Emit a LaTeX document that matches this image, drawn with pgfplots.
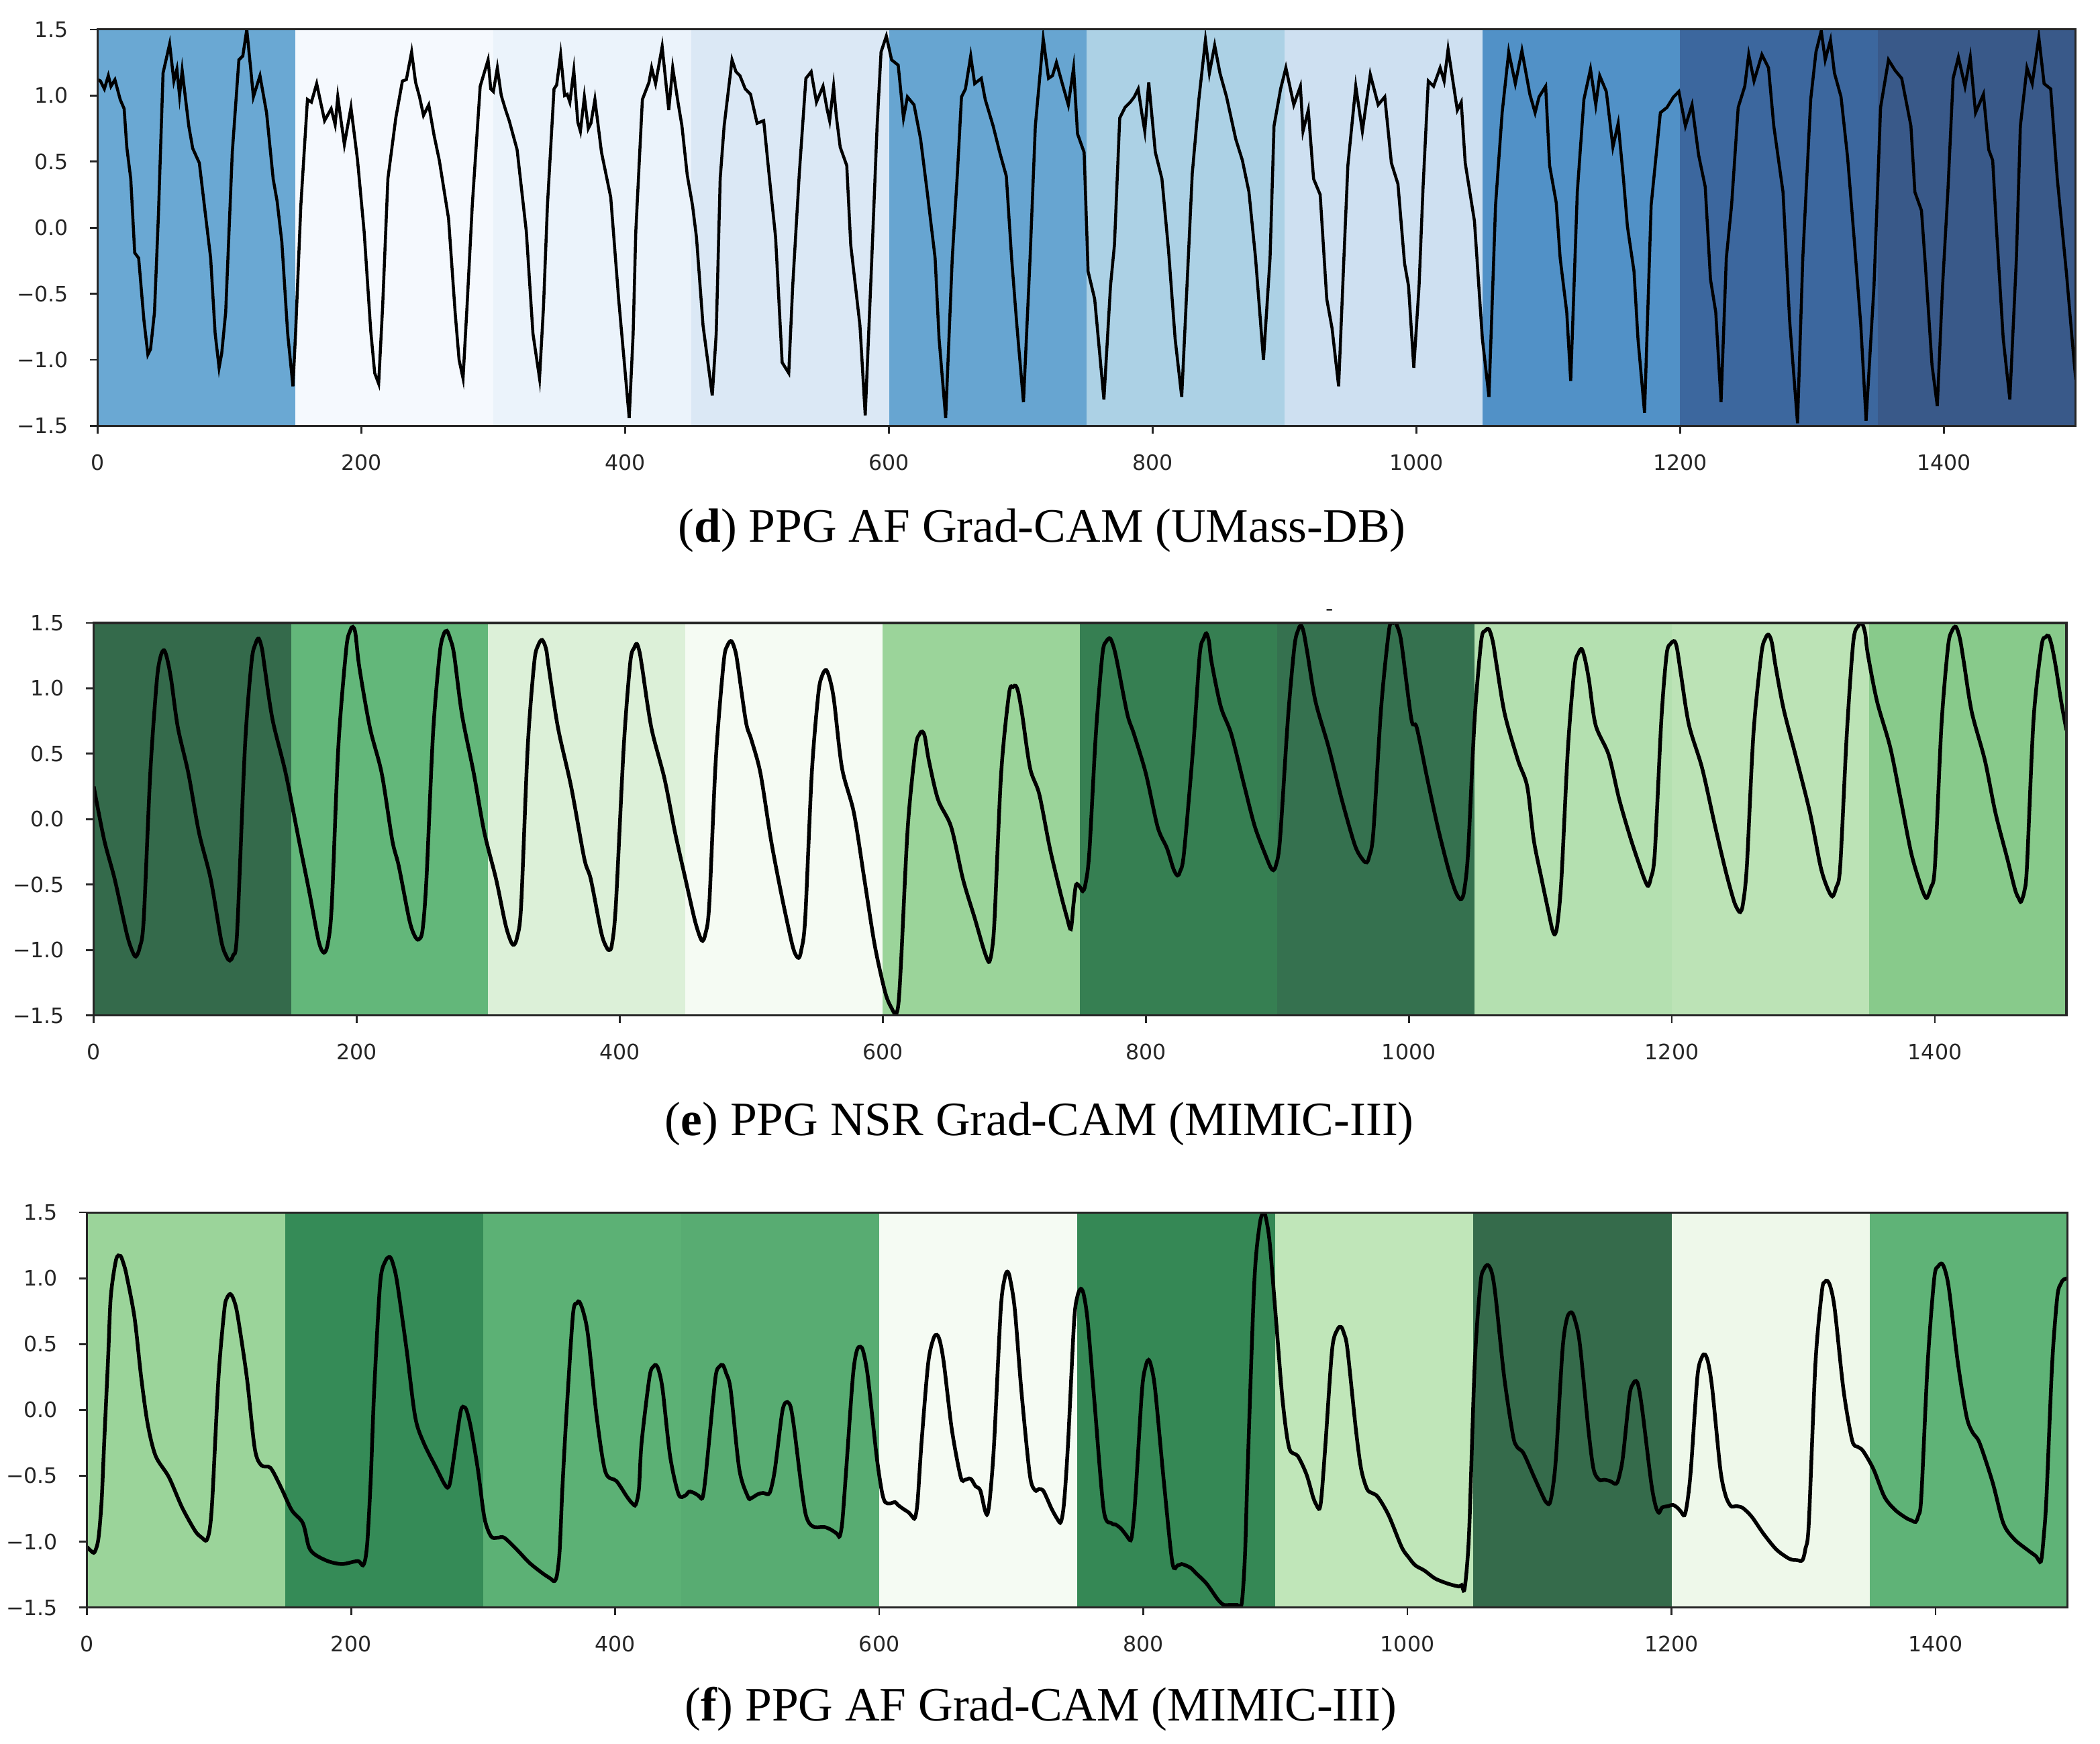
\documentclass[border=0pt]{standalone}
\usepackage{pgfplots}
\pgfplotsset{compat=1.18}
\usepackage{fontspec}
\setmainfont{Liberation Serif}
\newfontfamily\tickfont{DejaVu Sans}

% background bands of the Grad-CAM maps
\definecolor{d1}{RGB}{106,168,211}\definecolor{d2}{RGB}{245,249,254}
\definecolor{d3}{RGB}{235,243,251}\definecolor{d4}{RGB}{219,232,245}
\definecolor{d5}{RGB}{103,165,209}\definecolor{d6}{RGB}{172,209,229}
\definecolor{d7}{RGB}{206,224,241}\definecolor{d8}{RGB}{81,145,199}
\definecolor{d9}{RGB}{60,103,158}\definecolor{d10}{RGB}{57,89,137}
\definecolor{e1}{RGB}{52,106,75}\definecolor{e2}{RGB}{99,183,122}
\definecolor{e3}{RGB}{220,240,216}\definecolor{e4}{RGB}{245,251,243}
\definecolor{e5}{RGB}{155,212,154}\definecolor{e6}{RGB}{54,127,82}
\definecolor{e7}{RGB}{53,113,79}\definecolor{e8}{RGB}{180,224,176}
\definecolor{e9}{RGB}{188,227,182}\definecolor{e10}{RGB}{136,202,139}
\definecolor{f1}{RGB}{155,212,154}\definecolor{f2}{RGB}{53,139,87}
\definecolor{f3}{RGB}{92,177,117}\definecolor{f4}{RGB}{88,172,114}
\definecolor{f5}{RGB}{245,251,243}\definecolor{f6}{RGB}{53,136,85}
\definecolor{f7}{RGB}{192,230,185}\definecolor{f8}{RGB}{53,107,75}
\definecolor{f9}{RGB}{238,248,234}\definecolor{f10}{RGB}{95,179,119}

\newcommand{\band}[3]{\addplot[draw=none, fill=#3, forget plot] coordinates {(#1,-1.5) (#1,1.5) (#2,1.5) (#2,-1.5)};}
\newcommand{\bands}[1]{%
  \band{0}{150.6}{#11}\band{150}{300.6}{#12}\band{300}{450.6}{#13}%
  \band{450}{600.6}{#14}\band{600}{750.6}{#15}\band{750}{900.6}{#16}%
  \band{900}{1050.6}{#17}\band{1050}{1200.6}{#18}\band{1200}{1350.6}{#19}%
  \band{1350}{1500}{#110}}

\pgfplotsset{
  ppg/.style={
    scale only axis, anchor=north west,
    xmin=0, xmax=1500, ymin=-1.5, ymax=1.5,
    xtick={0,200,...,1400},
    xticklabels={0,200,400,600,800,1000,1200,1400},
    ytick={-1.5,-1,-0.5,0,0.5,1,1.5},
    yticklabels={−1.5,−1.0,−0.5,0.0,0.5,1.0,1.5},
    tick pos=left, tick align=outside,
    major tick length=0.06cm,
    tick style={black!85, line width=0.4pt},
    axis line style={black!85, line width=0.45pt},
    tick label style={font=\tickfont\fontsize{4.6}{5.5}\selectfont, text=black!85, inner sep=0pt},
    xticklabel shift=0.15cm, yticklabel shift=0.157cm,
    axis on top,
  }
}
\newcommand{\capfont}{\fontsize{10.4}{12}\selectfont}

\begin{document}
\begin{tikzpicture}
\useasboundingbox (0,0) rectangle (16cm,-13.28cm);

% (d) UMass-DB
\begin{axis}[ppg, at={(0.745cm,-0.2245cm)}, width=15.07cm, height=3.02cm]
\bands{d}
\addplot[black, line width=0.65pt] coordinates {
(0,1.12)(2,1.11)(5,1.05)(8,1.15)(10,1.07)(13,1.12)(17,0.97)(20,0.9)(22,0.61)(25,0.37)(28,-0.19)(31,-0.23)(35,-0.7)(38,-0.96)(40,-0.92)(43,-0.64)(46,0.1)(49.5,1.17)(54.5,1.39)(57.7,1.11)(60,1.2)(62,1.0)(64,1.19)(69,0.77)(72,0.6)(77,0.49)(82,0.07)(85.6,-0.23)(89,-0.8)(92,-1.06)(94,-0.95)(97,-0.64)(102,0.57)(107,1.27)(110,1.3)(113,1.5)(116,1.2)(118,0.99)(123,1.15)(128,0.87)(133,0.37)(136,0.2)(139.6,-0.11)(144,-0.8)(148,-1.2)(150,-0.8)(154,0.17)(159,0.97)(162,0.95)(166,1.09)(169,0.95)(172,0.81)(177,0.9)(180,0.78)(182,0.99)(187,0.63)(192,0.91)(197,0.51)(202,-0.03)(207,-0.78)(210,-1.1)(213,-1.18)(216,-0.6)(220,0.37)(226,0.83)(231,1.11)(234,1.12)(238,1.33)(241,1.1)(244,0.99)(247,0.85)(251,0.93)(255,0.7)(259,0.51)(266,0.07)(271,-0.64)(274,-1.0)(277,-1.14)(280,-0.6)(284,0.17)(290,1.07)(296,1.27)(298,1.05)(300,1.03)(303,1.21)(306,1.0)(309,0.9)(312,0.81)(318,0.59)(325,-0.03)(330,-0.8)(335,-1.14)(338,-0.6)(341,0.17)(346,1.05)(348,1.08)(351,1.31)(354,1.0)(356,1.01)(358,0.95)(361,1.19)(364,0.8)(366,0.73)(369,0.99)(372,0.75)(374,0.79)(377,0.97)(382,0.57)(389,0.23)(395,-0.54)(400,-1.1)(403,-1.44)(406,-0.8)(408,-0.03)(413,0.97)(418,1.1)(420,1.21)(423,1.09)(428,1.37)(433,0.89)(436,1.21)(440,0.95)(443,0.77)(447,0.4)(451,0.17)(454,-0.07)(459,-0.74)(466,-1.27)(469,-0.8)(472,0.37)(475,0.77)(481,1.27)(484,1.18)(487,1.15)(491,1.05)(495,1.01)(500,0.79)(505,0.81)(509,0.41)(514,-0.07)(519,-1.02)(524,-1.1)(527,-0.44)(532,0.41)(537,1.13)(541,1.18)(545,0.95)(550,1.07)(553,0.9)(555,0.81)(558,1.07)(560,0.85)(563,0.61)(568,0.47)(571,-0.13)(578,-0.74)(582,-1.42)(587,-0.23)(591,0.77)(594,1.33)(598,1.45)(602,1.27)(607,1.23)(611,0.83)(614,0.99)(619,0.93)(624,0.67)(629,0.27)(635,-0.23)(638,-0.84)(643,-1.44)(648,-0.23)(652,0.43)(655,0.99)(658,1.05)(662,1.3)(665,1.09)(670,1.13)(673,0.97)(679,0.77)(684,0.57)(689,0.39)(693,-0.23)(697,-0.74)(702,-1.32)(707,-0.23)(711,0.77)(717,1.43)(721,1.13)(724,1.15)(727,1.25)(732,1.07)(736,0.93)(740,1.21)(743,0.71)(748,0.57)(751,-0.33)(756,-0.54)(763,-1.3)(768,-0.44)(771,-0.13)(775,0.83)(779,0.91)(783,0.95)(786,0.99)(789,1.05)(792,0.85)(794,0.73)(797,1.1)(802,0.57)(807,0.37)(812,-0.17)(817,-0.84)(822,-1.28)(827,-0.23)(830,0.41)(835,0.97)(840,1.42)(843,1.17)(847,1.38)(851,1.17)(856,0.99)(863,0.67)(868,0.51)(873,0.27)(878,-0.23)(884,-1.0)(889,-0.23)(892,0.77)(897,1.05)(901,1.21)(907,0.93)(912,1.07)(914,0.73)(918,0.89)(922,0.37)(927,0.25)(932,-0.54)(936,-0.76)(941,-1.2)(945,-0.23)(948,0.47)(954,1.07)(959,0.73)(965,1.16)(971,0.93)(976,0.99)(981,0.49)(986,0.33)(991,-0.27)(994,-0.44)(998,-1.06)(1002,-0.44)(1005,0.3)(1009,1.11)(1013,1.07)(1018,1.21)(1021,1.11)(1024,1.35)(1031,0.89)(1034,0.95)(1037,0.49)(1044,0.05)(1050,-0.84)(1055,-1.28)(1060,0.17)(1065,0.87)(1070,1.33)(1075,1.09)(1080,1.34)(1086,1.01)(1090,0.87)(1093,0.99)(1098,1.07)(1101,0.47)(1106,0.19)(1109,-0.23)(1114,-0.64)(1117,-1.16)(1122,0.27)(1127,0.97)(1132,1.2)(1136,0.93)(1139,1.15)(1144,1.03)(1149,0.61)(1153,0.79)(1157,0.37)(1160,0.01)(1165,-0.33)(1168,-0.84)(1173,-1.4)(1178,0.17)(1185,0.87)(1190,0.91)(1195,0.99)(1199,1.03)(1204,0.77)(1209,0.93)(1214,0.55)(1219,0.31)(1223,-0.39)(1227,-0.64)(1231,-1.32)(1235,-0.23)(1239,0.17)(1244,0.91)(1249,1.07)(1252,1.31)(1256,1.11)(1262,1.31)(1267,1.21)(1271,0.77)(1278,0.27)(1283,-0.7)(1289,-1.48)(1293,-0.23)(1299,0.97)(1303,1.33)(1307,1.49)(1310,1.27)(1314,1.42)(1317,1.17)(1322,0.99)(1327,0.53)(1332,-0.09)(1337,-0.74)(1341,-1.46)(1347,-0.44)(1352,0.91)(1358,1.27)(1363,1.19)(1368,1.13)(1375,0.77)(1378,0.27)(1383,0.13)(1386,-0.29)(1391,-1.04)(1395,-1.35)(1399,-0.44)(1403,0.27)(1407,1.13)(1411,1.29)(1416,1.07)(1420,1.29)(1424,0.87)(1430,1.01)(1434,0.59)(1437,0.51)(1440,-0.03)(1445,-0.84)(1450,-1.3)(1455,-0.23)(1458,0.77)(1463,1.21)(1467,1.09)(1472,1.44)(1476,1.09)(1481,1.05)(1486,0.37)(1493,-0.35)(1498,-0.93)(1500,-1.15)
};
\end{axis}
\node[font=\capfont] at (7.94cm,-4.04cm) {(\textbf{d}) PPG AF Grad-CAM (UMass-DB)};

% (e) MIMIC-III NSR
\begin{axis}[ppg, at={(0.714cm,-4.745cm)}, width=15.03cm, height=2.99cm]
\bands{e}
\addplot[black, line width=0.8pt, smooth, tension=0.5] coordinates {
(0,0.25)(8,-0.16)(16,-0.46)(25,-0.87)(29,-1.0)(32,-1.05)(35,-0.98)(38,-0.77)(43,0.35)(48,1.06)(51,1.25)(53.6,1.29)(56,1.22)(59,1.06)(64,0.70)(72,0.35)(80,-0.10)(89,-0.46)(97,-0.93)(101,-1.05)(103.5,-1.08)(106,-1.04)(109,-0.87)(115,0.55)(120,1.2)(123,1.34)(125.5,1.38)(128,1.3)(130,1.16)(136,0.76)(146,0.35)(156,-0.16)(164,-0.56)(171,-0.93)(175,-1.02)(178,-0.95)(181,-0.66)(186,0.55)(192,1.30)(195,1.44)(197,1.47)(199,1.42)(202,1.16)(210,0.70)(219,0.35)(227,-0.16)(232,-0.36)(240,-0.77)(244,-0.89)(247,-0.92)(250,-0.85)(253,-0.46)(258,0.65)(263,1.26)(266,1.41)(268.5,1.44)(271,1.38)(274,1.26)(280,0.80)(289,0.35)(297,-0.10)(306,-0.46)(313,-0.80)(317,-0.93)(319.5,-0.96)(322,-0.9)(325,-0.66)(330,0.55)(335,1.2)(338,1.33)(341,1.37)(344,1.3)(346,1.16)(353,0.70)(363,0.25)(373,-0.30)(378,-0.46)(386,-0.87)(390,-0.98)(392,-1.0)(394,-0.96)(397,-0.66)(403,0.55)(408,1.2)(411,1.31)(413,1.34)(415,1.28)(417,1.16)(424,0.70)(434,0.31)(442,-0.10)(450,-0.46)(457,-0.77)(461,-0.9)(463,-0.93)(465,-0.88)(468,-0.66)(473,0.45)(479,1.2)(482,1.33)(485,1.36)(488,1.28)(490,1.16)(496,0.74)(500,0.61)(507,0.35)(515,-0.16)(523,-0.58)(530,-0.91)(533,-1.02)(536,-1.06)(538,-1.0)(541,-0.76)(546,0.35)(551,0.96)(554,1.1)(557,1.14)(560,1.06)(563,0.90)(569,0.39)(578,0.05)(586,-0.46)(594,-0.97)(602,-1.33)(607,-1.45)(610,-1.49)(612,-1.4)(614,-1.07)(619,-0.06)(625,0.55)(628,0.65)(630,0.67)(632,0.63)(635,0.45)(642,0.15)(652,-0.06)(661,-0.46)(670,-0.76)(676,-0.97)(679,-1.06)(681,-1.09)(683,-1.0)(685,-0.76)(690,0.35)(696,0.96)(699,1.01)(701,1.02)(703,0.97)(706,0.80)(712,0.39)(719,0.19)(727,-0.22)(735,-0.56)(740,-0.75)(743,-0.84)(745,-0.65)(747,-0.50)(750,-0.52)(752,-0.55)(754,-0.5)(757,-0.26)(762,0.65)(767,1.26)(770,1.36)(773,1.38)(776,1.3)(779,1.16)(786,0.80)(791,0.65)(800,0.35)(809,-0.06)(816,-0.22)(821,-0.38)(824,-0.43)(826,-0.4)(829,-0.26)(836,0.55)(841,1.26)(844,1.38)(846,1.42)(848,1.36)(850,1.2)(857,0.86)(865,0.65)(875,0.25)(883,-0.06)(892,-0.30)(895,-0.37)(897,-0.39)(899,-0.35)(902,-0.16)(908,0.76)(913,1.32)(916,1.45)(918,1.48)(920,1.43)(923,1.26)(929,0.90)(939,0.55)(949,0.15)(959,-0.20)(965,-0.31)(968,-0.33)(970,-0.28)(973,-0.10)(979,0.86)(985,1.45)(988,1.5)(990,1.5)(993,1.42)(995,1.30)(1002,0.76)(1006,0.70)(1014,0.31)(1022,-0.06)(1030,-0.38)(1035,-0.54)(1038,-0.6)(1040,-0.61)(1042,-0.55)(1045,-0.26)(1050,0.76)(1055,1.36)(1058,1.44)(1061,1.45)(1064,1.35)(1067,1.16)(1073,0.80)(1083,0.45)(1090,0.25)(1095,-0.16)(1101,-0.46)(1106,-0.70)(1109,-0.84)(1111,-0.88)(1113,-0.8)(1116,-0.46)(1121,0.55)(1126,1.16)(1129,1.27)(1131.5,1.30)(1134,1.22)(1137,1.06)(1142,0.72)(1152,0.49)(1160,0.15)(1169,-0.16)(1177,-0.40)(1180,-0.48)(1182,-0.51)(1184,-0.45)(1187,-0.26)(1192,0.76)(1196,1.26)(1199,1.34)(1202,1.36)(1204,1.3)(1207,1.10)(1213,0.72)(1223,0.39)(1233,-0.06)(1241,-0.40)(1247,-0.62)(1250,-0.69)(1252,-0.71)(1254,-0.65)(1257,-0.36)(1262,0.65)(1268,1.26)(1271,1.38)(1273.5,1.41)(1276,1.35)(1279,1.16)(1285,0.84)(1294,0.49)(1305,0.05)(1313,-0.36)(1318,-0.52)(1322,-0.59)(1325,-0.52)(1328,-0.36)(1333,0.65)(1338,1.36)(1342,1.48)(1344.5,1.5)(1347,1.42)(1349,1.26)(1356,0.90)(1366,0.55)(1374,0.15)(1382,-0.26)(1389,-0.50)(1392,-0.58)(1394,-0.60)(1397,-0.52)(1400,-0.36)(1405,0.72)(1410,1.32)(1413,1.44)(1416,1.47)(1419,1.38)(1422,1.20)(1428,0.82)(1438,0.45)(1446,0.05)(1455,-0.30)(1461,-0.54)(1464,-0.61)(1465.5,-0.63)(1468,-0.55)(1470,-0.36)(1475,0.76)(1481,1.32)(1484,1.39)(1486.5,1.40)(1489,1.32)(1492,1.16)(1496,0.90)(1500,0.68)
};
\end{axis}
\node[font=\tickfont\fontsize{4.6}{5.5}\selectfont, text=black!85, inner sep=0pt] at (10.13cm,-4.665cm) {-};
\node[font=\capfont] at (7.92cm,-8.56cm) {(\textbf{e}) PPG NSR Grad-CAM (MIMIC-III)};

% (f) MIMIC-III AF
\begin{axis}[ppg, at={(0.663cm,-9.235cm)}, width=15.09cm, height=3.01cm]
\bands{f}
\addplot[black, line width=0.8pt, smooth, tension=0.5] coordinates {
(0,-1.04)(3,-1.07)(5.7,-1.08)(8.6,-0.98)(11,-0.7)(13,-0.25)(16,0.4)(18,0.86)(22,1.14)(25.3,1.17)(28,1.1)(30,1.02)(36,0.70)(41,0.25)(46,-0.11)(52,-0.35)(62,-0.51)(72,-0.74)(82,-0.92)(87,-0.97)(90.5,-0.99)(93,-0.9)(95,-0.66)(99.6,0.25)(104,0.76)(106,0.85)(108.5,0.88)(111,0.84)(114,0.72)(121,0.25)(127,-0.29)(132,-0.42)(139,-0.44)(147,-0.59)(155,-0.76)(163.5,-0.86)(168,-1.04)(173,-1.10)(183,-1.15)(193,-1.17)(203,-1.15)(206,-1.15)(209,-1.18)(211,-1.12)(212.6,-0.96)(215,-0.5)(217.5,0.15)(222,0.96)(226,1.13)(229.5,1.16)(232,1.1)(235,0.96)(242,0.46)(248.5,-0.05)(255,-0.25)(265,-0.45)(270,-0.55)(273,-0.59)(275,-0.55)(278,-0.35)(283,-0.01)(286,0.02)(288,-0.02)(291,-0.15)(296,-0.45)(301,-0.82)(306,-0.96)(311,-0.97)(316,-0.97)(325.5,-1.06)(335,-1.16)(345,-1.24)(351,-1.28)(354,-1.30)(356,-1.25)(358,-1.06)(360,-0.6)(363,-0.05)(368,0.72)(371,0.81)(373,0.82)(376,0.74)(379.5,0.56)(386,-0.05)(392.6,-0.47)(401,-0.54)(409,-0.66)(413,-0.71)(415.5,-0.72)(418,-0.6)(420,-0.25)(426,0.25)(429,0.33)(431,0.34)(433,0.3)(436,0.15)(441.6,-0.35)(448,-0.64)(453,-0.65)(456,-0.62)(459.7,-0.63)(463,-0.65)(466,-0.67)(468,-0.55)(471,-0.25)(476,0.25)(479,0.33)(481.6,0.34)(484,0.28)(487.5,0.15)(494,-0.45)(500.6,-0.66)(503,-0.67)(508,-0.64)(512,-0.63)(516,-0.64)(518,-0.6)(521,-0.45)(526,-0.05)(528,0.04)(530.5,0.06)(533,0.02)(535.7,-0.15)(540.6,-0.55)(544,-0.78)(547,-0.86)(551,-0.89)(555,-0.89)(559,-0.89)(563.6,-0.91)(568,-0.94)(570,-0.96)(572,-0.85)(575,-0.45)(580,0.25)(583,0.45)(585.8,0.48)(588,0.44)(591.4,0.25)(598,-0.35)(602,-0.62)(604.5,-0.70)(608,-0.71)(612,-0.70)(614,-0.72)(618,-0.75)(622.5,-0.78)(625,-0.81)(627,-0.82)(629,-0.7)(632,-0.25)(637,0.35)(641,0.54)(643.7,0.57)(646,0.52)(649,0.35)(655,-0.15)(661.7,-0.51)(665,-0.53)(668,-0.52)(670,-0.53)(673,-0.58)(676.5,-0.61)(680,-0.76)(682,-0.79)(684,-0.65)(687,-0.25)(692,0.76)(695,1.0)(697,1.05)(699,1.0)(702.7,0.76)(707.6,0.15)(714,-0.49)(718,-0.61)(721,-0.60)(724,-0.61)(727,-0.67)(730.5,-0.75)(735,-0.83)(737.6,-0.85)(740,-0.7)(743,-0.25)(747.5,0.66)(750,0.86)(752.7,0.92)(755,0.87)(758,0.66)(763,0.06)(770,-0.76)(776,-0.86)(779,-0.87)(783,-0.90)(787,-0.95)(790.4,-0.99)(792,-0.9)(794,-0.66)(799,0.15)(802,0.34)(804,0.38)(806,0.33)(809,0.15)(815.6,-0.55)(822,-1.16)(826,-1.18)(829,-1.17)(832,-1.18)(836,-1.2)(840,-1.24)(848,-1.32)(856.5,-1.44)(861,-1.48)(866,-1.48)(871,-1.48)(874.5,-1.47)(877,-1.1)(879,-0.45)(884,0.96)(888,1.4)(891,1.5)(893,1.45)(895.8,1.26)(900.7,0.66)(905.6,0.06)(910.5,-0.29)(917,-0.35)(923.6,-0.49)(928.5,-0.66)(931,-0.72)(933.4,-0.75)(935,-0.65)(938,-0.25)(943,0.46)(947,0.61)(949.8,0.63)(952,0.58)(954.6,0.46)(961,-0.15)(965,-0.45)(969.4,-0.60)(973,-0.63)(977.6,-0.66)(985.8,-0.80)(995.6,-1.04)(1001,-1.12)(1006,-1.18)(1013,-1.22)(1021,-1.28)(1031,-1.32)(1039,-1.34)(1041,-1.33)(1043,-1.37)(1045,-1.2)(1047,-0.86)(1051,0.35)(1055.3,0.96)(1058,1.07)(1061,1.10)(1064,1.04)(1066.8,0.86)(1073.3,0.25)(1079.9,-0.19)(1083,-0.28)(1088,-0.33)(1096,-0.51)(1102.8,-0.66)(1105,-0.70)(1107.7,-0.71)(1110,-0.6)(1112.6,-0.35)(1117.5,0.46)(1121,0.70)(1124.4,0.74)(1127,0.68)(1130.6,0.50)(1137.1,-0.15)(1141,-0.45)(1145.3,-0.53)(1149,-0.53)(1153.5,-0.54)(1157,-0.56)(1159,-0.55)(1161,-0.48)(1163.3,-0.35)(1168.2,0.11)(1171,0.2)(1173.1,0.22)(1175,0.18)(1178,-0.01)(1184.6,-0.55)(1188,-0.73)(1190.5,-0.78)(1193,-0.74)(1197.7,-0.73)(1201,-0.72)(1204.2,-0.74)(1207,-0.77)(1209.8,-0.80)(1212,-0.7)(1214.7,-0.45)(1219.6,0.25)(1223,0.40)(1225.5,0.42)(1228,0.35)(1231,0.15)(1237,-0.45)(1241,-0.65)(1245,-0.73)(1249,-0.73)(1253.3,-0.74)(1257,-0.77)(1261.5,-0.82)(1269.7,-0.94)(1279.5,-1.06)(1289.3,-1.13)(1295,-1.14)(1299.2,-1.14)(1301.5,-1.05)(1304,-0.86)(1309,0.35)(1313.9,0.90)(1316,0.97)(1318.1,0.98)(1320.5,0.93)(1323.7,0.76)(1330.3,0.15)(1336.8,-0.23)(1341,-0.28)(1345,-0.31)(1353,-0.45)(1361.3,-0.66)(1369.5,-0.76)(1377.7,-0.82)(1382,-0.84)(1384.9,-0.85)(1387,-0.8)(1389.2,-0.66)(1394,0.35)(1399,1.0)(1402,1.09)(1404.9,1.11)(1407.5,1.05)(1410.4,0.90)(1417,0.35)(1423.5,-0.05)(1428,-0.17)(1433.3,-0.25)(1443.2,-0.55)(1451.3,-0.86)(1459.5,-0.98)(1469.3,-1.06)(1476,-1.11)(1479.8,-1.15)(1482,-0.95)(1484,-0.66)(1488.3,0.35)(1492.2,0.86)(1495,0.96)(1497,0.99)(1500,1.0)
};
\end{axis}
\node[font=\capfont] at (7.93cm,-13.02cm) {(\textbf{f}) PPG AF Grad-CAM (MIMIC-III)};
\end{tikzpicture}
\end{document}
